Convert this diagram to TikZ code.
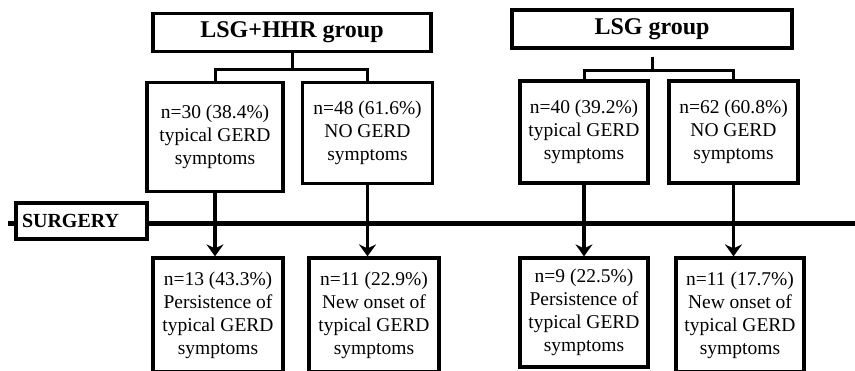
\documentclass[tikz,border=0pt]{standalone}
\usepackage{fontspec}
\setmainfont{Liberation Serif}
\usetikzlibrary{arrows.meta,positioning}

\begin{document}
\begin{tikzpicture}[x=1pt,y=-1pt,>={Stealth[length=12pt,width=17pt,inset=4pt]},
  grpbox/.style={draw, line width=3.2pt, inner sep=0pt, minimum height=38pt,
    font=\fontsize{24}{28}\selectfont\bfseries},
  infobox/.style={draw, line width=3.2pt, inner sep=0pt, align=center,
    font=\fontsize{19.5}{23}\selectfont},
  conn/.style={line width=3pt},
  flow/.style={line width=3.4pt,->}]
  \useasboundingbox (0,0) rectangle (855,370);
  \clip (0,0) rectangle (855,370);

  % Groups and preoperative status
  \node (hhr) [grpbox, minimum width=278pt] at (292,32.5) {LSG+HHR group};
  \node (lsg) [grpbox, minimum width=280pt] at (652,29) {LSG group};
  \node (hhrgerd)   [infobox, minimum width=136pt, minimum height=109pt] at (215,137) {n=30 (38.4\%)\\typical GERD\\symptoms};
  \node (hhrnogerd) [infobox, minimum width=130pt, minimum height=101pt] at (367.5,133) {n=48 (61.6\%)\\NO GERD\\symptoms};
  \node (lsggerd)   [infobox, minimum width=128pt, minimum height=102pt] at (584,132) {n=40 (39.2\%)\\typical GERD\\symptoms};
  \node (lsgnogerd) [infobox, minimum width=129pt, minimum height=102pt] at (733.5,132) {n=62 (60.8\%)\\NO GERD\\symptoms};

  % Group splits
  \draw[conn] (hhr.south) -- ++(0,16) coordinate (hhrsplit);
  \draw[conn] (hhrgerd.north) |- (hhrsplit) -| (hhrnogerd.north);
  \draw[conn] ([yshift=-7pt]lsg.south) -- ++(0,14) coordinate (lsgsplit);
  \draw[conn] (lsggerd.north) |- (lsgsplit) -| (lsgnogerd.north);

  % Surgery time line
  \coordinate (tlstart) at (8,223);
  \coordinate (tlend) at (860,223);
  \draw[line width=5pt] (tlstart) -- (tlend);
  \node (surgery) [grpbox, fill=white, minimum height=36pt, inner xsep=6pt, text width=119pt, align=left,
    font=\fontsize{20}{24}\selectfont\bfseries] at (81.5,221) {SURGERY};

  % Postoperative status
  \node (hhrpersist) [infobox, minimum width=130pt, minimum height=114pt] at (218,315) {n=13 (43.3\%)\\Persistence of\\typical GERD\\symptoms};
  \node (hhronset)   [infobox, minimum width=130pt, minimum height=114pt] at (374,315) {n=11 (22.9\%)\\New onset of\\typical GERD\\symptoms};
  \node (lsgpersist) [infobox, minimum width=128pt, minimum height=109pt] at (584,312.5) {n=9 (22.5\%)\\Persistence of\\typical GERD\\symptoms};
  \node (lsgonset)   [infobox, minimum width=128pt, minimum height=114pt] at (740,315) {n=11 (17.7\%)\\New onset of\\typical GERD\\symptoms};

  % Follow-up
  \draw[flow] (hhrgerd.south) -- (hhrgerd.south |- hhrpersist.north);
  \draw[flow] (hhrnogerd.south) -- (hhrnogerd.south |- hhronset.north);
  \draw[flow] (lsggerd.south) -- (lsggerd.south |- lsgpersist.north);
  \draw[flow] (lsgnogerd.south) -- (lsgnogerd.south |- lsgonset.north);
\end{tikzpicture}
\end{document}
